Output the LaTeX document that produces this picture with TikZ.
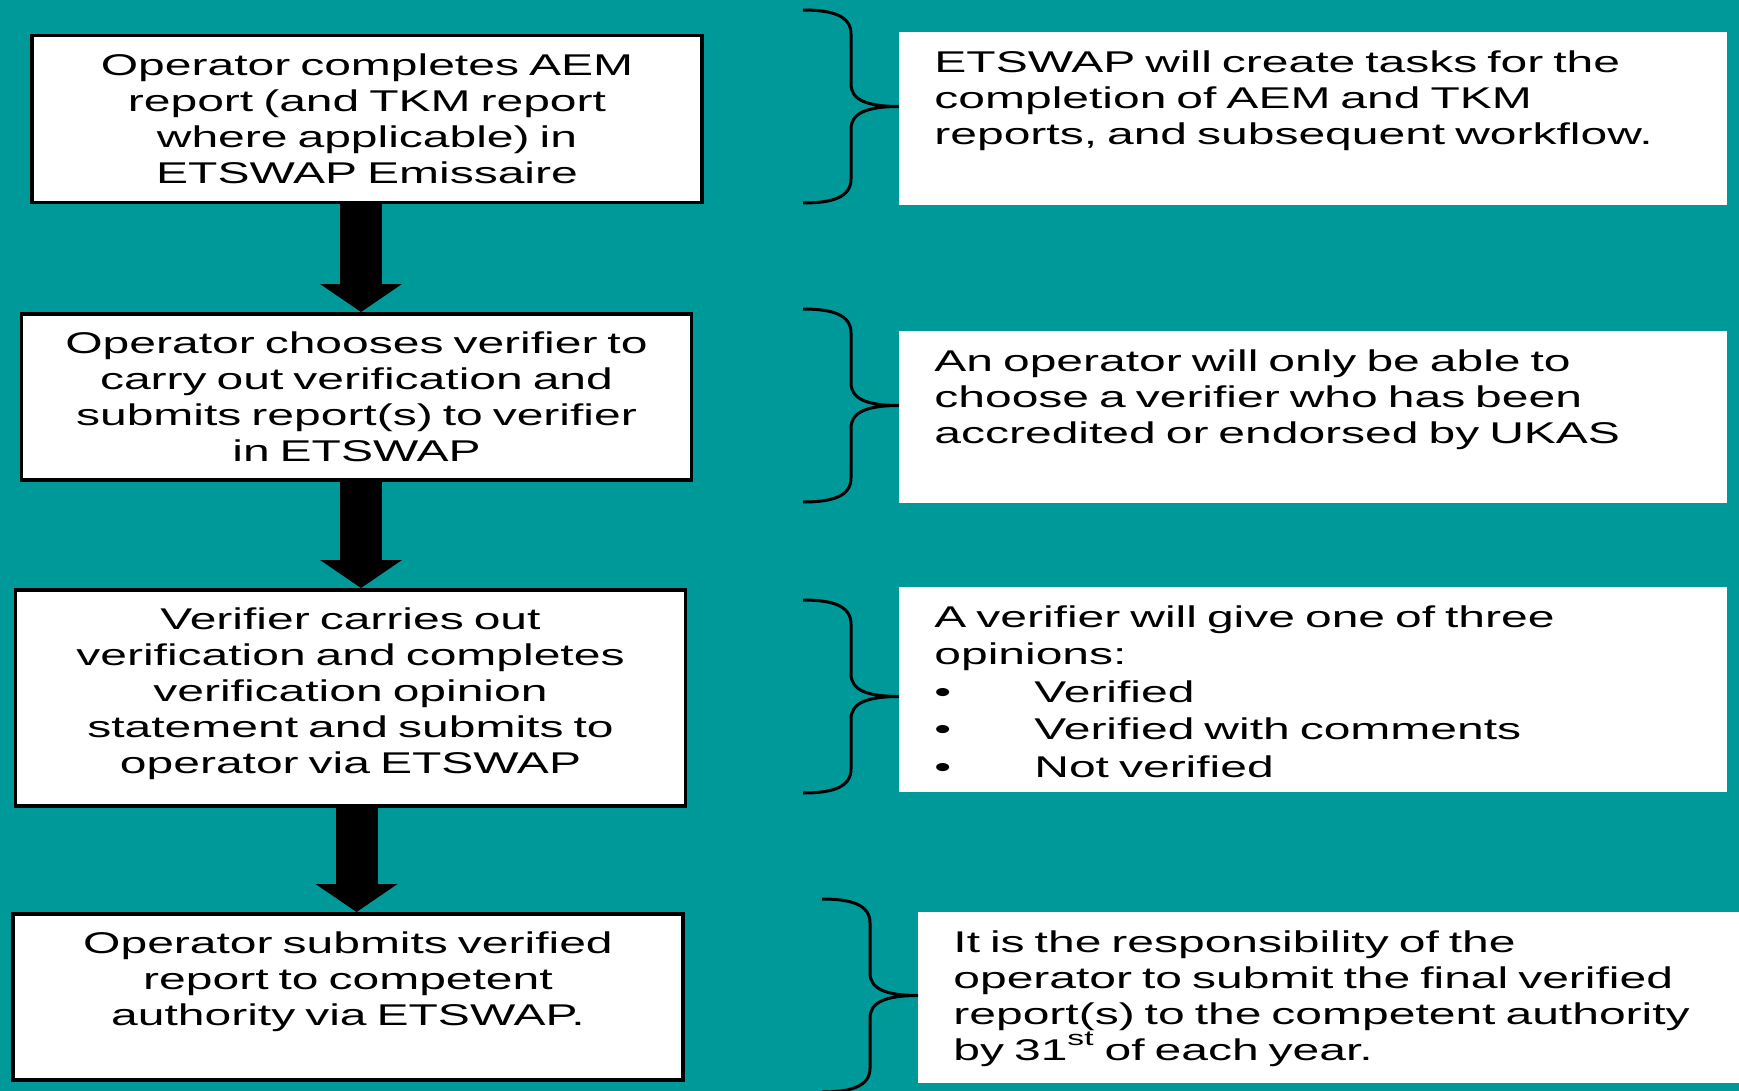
\documentclass[tikz,border=0pt]{standalone}
\usepackage{fontspec}
\setmainfont[FakeStretch=1.6]{Liberation Sans}
\usetikzlibrary{arrows.meta}
\definecolor{sea}{RGB}{0,153,153}

\begin{document}
\begin{tikzpicture}
  [x=0.5pt,y=-0.5pt,
   every node/.style={font=\fontsize{15}{18}\selectfont,inner sep=0pt,text height=20pt},
   stage/.style={draw,fill=white,line width=1.75pt,align=center,text width=335pt,anchor=north},
   note/.style={fill=white,align=left,text width=379pt,inner xsep=17.5pt,anchor=north west},
   bigarrow/.style={line width=21pt,-{Triangle[width=41pt,length=14pt,line width=0pt]}},
   brace/.style={line width=1.5pt}]
  \useasboundingbox (0,0) rectangle (1739,1091);
  \fill[sea] (0,0) rectangle (1739,1091);

  \node[stage,text depth=63.5pt] (b1) at (367,34) {Operator completes AEM\\report (and TKM report\\where applicable) in\\ETSWAP Emissaire};
  \node[stage,text depth=63pt] (b2) at (356.5,312) {Operator chooses verifier to\\carry out verification and\\submits report(s) to verifier\\in ETSWAP};
  \node[stage,text depth=88pt] (b3) at (350.5,588) {Verifier carries out\\verification and completes\\verification opinion\\statement and submits to\\operator via ETSWAP};
  \node[stage,text depth=63pt] (b4) at (348,912) {Operator submits verified\\report to competent\\authority via ETSWAP.};

  \node[note,text depth=66.5pt] (n1) at (899,32) {ETSWAP will create tasks for the\\completion of AEM and TKM\\reports, and subsequent workflow.};
  \node[note,text depth=66pt] (n2) at (899,331) {An operator will only be able to\\choose a verifier who has been\\accredited or endorsed by UKAS};
  \node[note,text depth=82.5pt] (n3) at (899,587) {A verifier will give one of three\\[0.75pt]opinions:\\[0.75pt]\makebox[50pt][l]{\textbullet}Verified\\[0.75pt]\makebox[50pt][l]{\textbullet}Verified with comments\\[0.75pt]\makebox[50pt][l]{\textbullet}Not verified};
  \node[note,text depth=65.5pt] (n4) at (918,912) {It is the responsibility of the\\operator to submit the final verified\\report(s) to the competent authority\\by 31\raisebox{2pt}{\textsuperscript{st}} of each year.};

  \foreach \from/\to/\da/\db in {b1/b2/-3pt/2.25pt,b2/b3/2.25pt/5.25pt,b3/b4/3pt/4.25pt}
    \draw[bigarrow] ([xshift=\da]\from.south) -- ([xshift=\db]\to.north);

  \foreach \x/\y in {803/10,803/309,803/600,822/899}
    \draw[brace] (\x,\y) .. controls (\x+30,\y) and (\x+48,\y+6) .. (\x+48,\y+24)
      -- (\x+48,\y+74) .. controls (\x+48,\y+90) and (\x+64,\y+96.5) .. (\x+96,\y+96.5)
      .. controls (\x+64,\y+96.5) and (\x+48,\y+103) .. (\x+48,\y+119)
      -- (\x+48,\y+169) .. controls (\x+48,\y+187) and (\x+30,\y+193) .. (\x,\y+193);

\end{tikzpicture}
\end{document}
